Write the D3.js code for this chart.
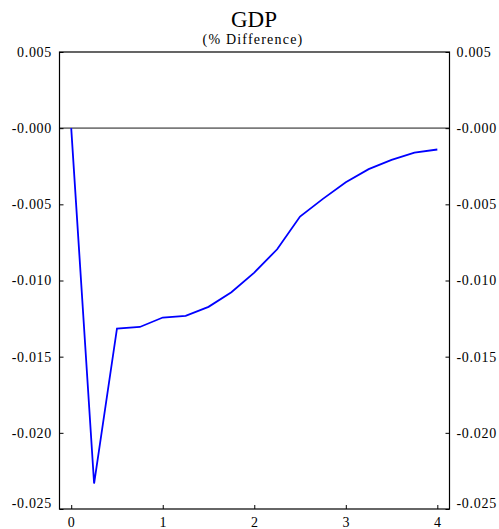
<!DOCTYPE html>
<html><head><meta charset="utf-8">
<script src="https://cdn.jsdelivr.net/npm/d3@7"></script>
<style>body{margin:0;background:#fff}</style>
</head><body>
<svg id="c" width="499" height="529"></svg>
<script>
const quarters = [0,0.25,0.5,0.75,1,1.25,1.5,1.75,2,2.25,2.5,2.75,3,3.25,3.5,3.75,4];
const gdp = [0,-0.02333,-0.01315,-0.01305,-0.01243,-0.01232,-0.01173,-0.01077,-0.00948,-0.00795,-0.00580,-0.00464,-0.00355,-0.00269,-0.00208,-0.00160,-0.00140];
const xTicks = [0,1,2,3,4];
const yTicks = [0.005,0,-0.005,-0.010,-0.015,-0.020,-0.025];
const yLabels = ["0.005","-0.000","-0.005","-0.010","-0.015","-0.020","-0.025"];

const FONT = "'Liberation Serif', 'DejaVu Serif', serif";
const svg = d3.select("#c");
const L=59.5,R=449.5,T=52,B=509;
const x = d3.scaleLinear().domain([-0.128,4.133]).range([L,R]);
const y = d3.scaleLinear().domain([-0.025,0.005]).range([B,T]);

svg.append("text").attr("x",254).attr("y",27).attr("text-anchor","middle").style("font-family",FONT).style("font-size","23px").text("GDP");
svg.append("text").attr("x",253).attr("y",44).attr("text-anchor","middle").style("font-family",FONT).style("font-size","14px").style("letter-spacing","1.2px").text("(% Difference)");

// zero line
svg.append("line").attr("x1",L).attr("x2",R).attr("y1",y(0)).attr("y2",y(0)).attr("stroke","#7a7a7a").attr("stroke-width",1.6);

// axes
const ax=d3.axisBottom(x).tickValues(xTicks).tickSize(-4).tickPadding(8).tickFormat(d3.format("d"));
const gx=svg.append("g").attr("transform",`translate(0,${B})`).call(ax);
gx.select(".domain").remove();

const ayl=d3.axisLeft(y).tickValues(yTicks).tickSize(-4).tickPadding(7.5).tickFormat((d,i)=>yLabels[i]);
const gl=svg.append("g").attr("transform",`translate(${L},0)`).call(ayl);
gl.select(".domain").remove();
const ayr=d3.axisRight(y).tickValues(yTicks).tickSize(-4).tickPadding(7).tickFormat((d,i)=>yLabels[i]);
const gr=svg.append("g").attr("transform",`translate(${R},0)`).call(ayr);
gr.select(".domain").remove();
[gx,gl,gr].forEach(g=>{g.attr("font-family",null).attr("font-size",null);
  g.selectAll("text").style("font-family",FONT).style("font-size","14px").style("letter-spacing","0.7px").attr("fill","#000");});
[gl,gr].forEach(g=>g.selectAll(".tick").filter(d=>d===-0.025).select("text").attr("y",-6));
svg.selectAll(".tick line").attr("stroke","#000");

// frame
svg.append("rect").attr("x",L).attr("y",T).attr("width",R-L).attr("height",B-T).attr("fill","none").attr("stroke","#000").attr("stroke-width",1.2);

// series
svg.append("path").datum(quarters.map((q,i)=>[q,gdp[i]]))
  .attr("d",d3.line().x(d=>x(d[0])).y(d=>y(d[1])))
  .attr("fill","none").attr("stroke","#0000ff").attr("stroke-width",1.8);
</script>
</body></html>
